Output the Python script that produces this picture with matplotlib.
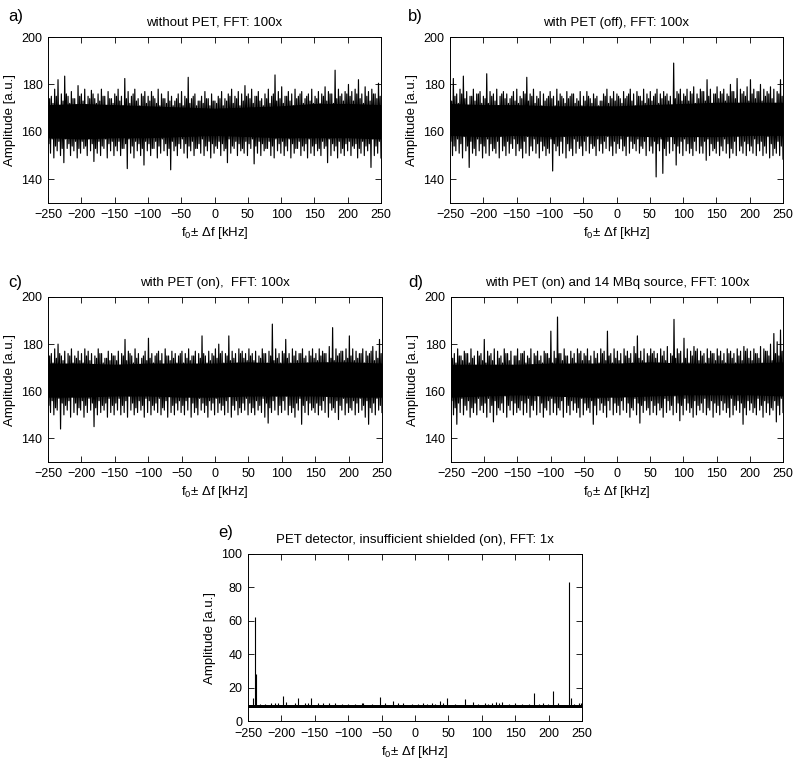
import numpy as np
import matplotlib
matplotlib.use("Agg")
import matplotlib.pyplot as plt

plt.rcParams['font.family'] = ['Liberation Sans', 'DejaVu Sans']
plt.rcParams['mathtext.fontset'] = 'custom'
plt.rcParams['mathtext.rm'] = 'Liberation Sans'
plt.rcParams['mathtext.it'] = 'Liberation Sans:italic'

titles = ["without PET, FFT: 100x", "with PET (off), FFT: 100x",
          "with PET (on),  FFT: 100x", "with PET (on) and 14 MBq source, FFT: 100x",
          "PET detector, insufficient shielded (on), FFT: 1x"]
panel_labels = ["a)", "b)", "c)", "d)", "e)"]
xticks = [-250, -200, -150, -100, -50, 0, 50, 100, 150, 200, 250]

# large upper / lower excursions (every 5 kHz), panels a-d
a_hi = [177,175,178,182,176,183.5,175,177,174,179.5,
        176,178,175,177.5,174,176,178,175,177,174,
        176,178,175,182.5,177,175,178,174,176,177,
        175,177,174,178,176,174,177,175,173,176,
        177,175,183,174,176,173,175,177,174,176,
        173,175,177,174,176,178,175,177,176,179.5,
        176,178,175,177,174,176,178,175,184,177,
        179,175,177,176,178,175,177,174,176,178,
        175,177,176,179,177,176,186,178,176,177,
        180,177,178,182,176,179,177,178,176,180.5]
a_lo = [151,149,152,150,147,153,150,152,149,151,
        153,150,152,147.5,151,150,153,149,152,150,
        152,150,153,144.5,151,149,152,150,146,152,
        150,153,149,151,152,150,144,152,150,153,
        151,149,152,150,153,151,150,152,149,151,
        153,150,152,147,151,153,150,152,151,150,
        153,146.5,151,150,152,153,150,149,152,151,
        150,152,149,151,153,150,152,149,151,150,
        152,150,153,147,150,152,149,151,150,152,
        150,153,149,151,150,152,145,150,151,149]
b_hi = [180,182.5,176,178,183.5,177,175,178,176,177,
        175,184.5,177,176,178,175,177,176,174,177,
        178,175,177,183,176,178,175,177,176,174,
        177,175,178,176,174,177,175,176,174,177,
        175,177,174,176,175,173,176,178,175,177,
        176,174,177,175,178,176,177,175,178,176,
        177,175,178,176,177,176,175,189,177,178,
        176,178,177,179,176,178,177,182,178,176,
        179,177,178,176,180,177,182.5,178,177,179,
        182,178,177,180,178,177,179,178,177,182]
b_lo = [150,152,151,149,152,145,151,150,152,149,
        151,150,152,151,149,152,150,151,153,150,
        152,149,151,150,152,151,149,152,150,151,
        143.5,152,150,151,149,152,150,151,153,150,
        152,151,153,150,152,151,153,152,150,151,
        153,152,150,151,153,152,151,153,150,152,
        151,141,152,142.5,150,151,152,146,151,150,
        152,151,150,152,151,151,148,150,152,151,
        150,152,151,149,151,150,152,151,150,152,
        151,150,152,150,151,149,150,151,150,148.5]
c_hi = [177,176,178,180,175,177,176,178,175,177,
        176,178,177,176,175,178,176,174,177,176,
        175,177,176,182,177,175,178,176,174,177,
        182.5,176,175,177,176,178,175,177,176,175,
        177,176,178,175,177,176,183.5,175,177,176,
        178,180,177,176,183.5,177,176,178,177,176,
        178,176,177,175,178,176,177,188.5,178,176,
        177,182,176,178,177,176,178,175,177,178,
        176,178,177,176,179,187,178,176,177,178,
        183.5,178,177,176,178,177,176,179,177,182]
c_lo = [151,150,152,144,150,152,149,151,150,152,
        149,151,152,145,150,151,152,149,151,150,
        152,150,151,149,152,150,151,152,149,151,
        150,152,151,150,152,149,151,150,152,151,
        150,152,149,151,150,152,151,149,152,150,
        151,152,150,151,149,152,150,151,152,150,
        151,150,152,151,149,146.5,151,152,150,151,
        152,150,151,149,152,146,151,150,152,151,
        150,152,151,149,152,151,148,152,150,151,
        152,150,151,152,149,146,151,150,152,151]
d_hi = [177,176,178,175,177,176,178,175,177,176,
        182,177,176,178,177,175,178,176,177,175,
        178,176,177,175,178,176,177,175,177,176,
        185.5,177,191.5,176,178,175,177,176,178,177,
        176,178,175,177,176,178,177,185.5,176,178,
        177,176,178,177,176,179,183.5,177,178,176,
        178,177,176,178,177,179,176,190.5,178,177,
        182.5,178,177,179,178,177,176,178,177,176,
        178,177,176,178,177,176,178,177,179,178,
        177,178,176,179,178,177,180,184.5,181,186]
d_lo = [150,146,151,150,152,149,151,150,152,151,
        149,151,147,150,152,151,149,152,150,151,
        152,150,151,149,152,150,151,149,152,150,
        151,150,152,149,151,150,152,151,149,150,
        152,151,146,150,152,151,149,152,150,151,
        150,152,151,149,152,150,146.5,151,152,150,
        151,150,152,149,151,152,150,151,147.5,150,
        152,151,149,150,152,151,150,152,149,151,
        150,152,151,149,150,152,151,146,150,152,
        151,150,152,149,151,150,152,147,150,151]

# smaller (shoulder) excursions in between, panels a-d
a_hi2 = [174,172,175,171,173,176,172,174,171,175,
         173,171,174,176,172,173,175,171,174,172,
         175,173,171,174,172,176,173,171,175,172,
         173,175,172,171,174,172,173,171,174,172,
         171,174,172,175,171,173,172,174,171,173,
         172,174,171,173,175,172,174,171,173,175,
         174,172,175,173,171,174,172,176,173,174,
         172,175,173,171,174,176,172,175,173,172,
         174,172,175,173,176,172,174,175,173,176,
         175,173,176,174,172,175,173,176,174,175]
a_lo2 = [155,157,154,156,153,157,155,154,156,153,
         156,154,157,155,153,156,154,157,155,156,
         154,156,153,155,157,154,156,155,153,156,
         155,153,156,154,157,155,153,156,154,155,
         157,155,154,156,153,155,157,154,156,155,
         154,156,155,153,157,154,156,155,153,156,
         155,157,154,156,155,153,156,154,157,155,
         156,154,157,155,153,156,154,155,157,154,
         155,153,156,154,157,155,154,156,153,155,
         156,154,155,153,156,154,155,157,154,156]
b_hi2 = [173,175,172,176,174,171,175,173,176,172,
         174,172,175,173,171,176,174,172,175,173,
         172,174,176,173,175,172,174,171,173,175,
         174,171,173,175,172,174,176,172,173,171,
         173,175,172,174,171,173,175,172,174,173,
         175,172,174,176,173,171,175,173,172,174,
         173,176,172,174,175,173,171,174,176,173,
         175,173,176,172,174,177,173,175,172,176,
         174,176,173,175,177,174,172,176,175,173,
         176,174,177,173,175,176,174,172,176,175]
b_lo2 = [156,154,157,155,158,154,156,153,157,155,
         154,157,155,153,156,158,154,156,155,157,
         155,153,156,158,154,157,155,156,154,153,
         157,155,154,156,158,155,153,157,156,154,
         156,158,155,154,157,155,156,158,154,156,
         155,157,154,158,156,155,157,154,156,158,
         154,156,155,157,153,156,158,155,154,156,
         157,155,153,156,158,154,156,157,155,153,
         156,154,157,155,153,156,158,154,156,155,
         154,157,155,156,154,158,155,153,156,154]
c_hi2 = [175,172,174,176,173,171,175,172,174,173,
         172,175,173,171,174,176,172,174,173,175,
         173,171,175,173,176,172,174,171,175,173,
         174,172,176,173,171,175,173,174,172,176,
         172,174,173,175,171,174,176,172,173,175,
         174,176,172,175,173,174,172,176,174,173,
         175,173,171,174,176,172,175,173,174,172,
         176,174,172,175,173,176,174,172,175,174,
         173,175,176,172,174,173,175,177,173,174,
         175,173,174,176,172,175,177,173,174,176]
c_lo2 = [154,156,153,157,155,154,156,158,155,153,
         156,154,157,155,153,156,154,155,157,154,
         155,157,154,156,158,155,153,156,154,157,
         156,154,155,157,153,156,158,154,155,156,
         154,156,158,155,153,157,155,154,156,155,
         157,155,154,156,158,154,156,153,155,157,
         155,153,156,154,157,155,153,156,158,154,
         156,158,154,153,155,157,154,156,155,153,
         155,154,156,158,155,153,156,154,157,155,
         153,156,155,157,154,156,153,155,157,154]
d_hi2 = [174,172,175,173,176,172,174,171,175,173,
         172,175,173,171,174,172,176,173,171,175,
         173,176,172,174,171,175,173,172,176,174,
         172,174,176,173,175,171,174,172,176,173,
         175,173,171,174,172,176,173,175,172,174,
         173,171,175,174,172,176,174,173,171,175,
         176,174,172,175,173,171,175,174,176,172,
         174,172,175,177,173,175,172,174,176,173,
         175,173,172,176,174,172,175,173,177,174,
         173,176,174,172,177,175,173,176,175,177]
d_lo2 = [156,153,155,157,154,156,153,155,157,154,
         155,157,154,156,153,155,158,154,156,155,
         153,156,155,157,154,156,158,155,153,156,
         157,155,153,156,158,154,156,155,153,157,
         155,153,156,154,157,155,154,156,158,155,
         154,156,158,155,153,157,155,154,156,153,
         156,154,155,153,157,156,154,158,155,154,
         157,155,153,156,154,155,157,153,156,155,
         154,156,155,153,157,154,156,155,153,156,
         155,153,157,154,156,155,153,156,154,157]

# dense core band (every 50 kHz)
a_core_lo = [157.5, 157, 157.5, 157.5, 158, 158.5, 158, 157.5, 157.5, 157.5, 157]
a_core_hi = [171.5, 172, 171.5, 171, 170.5, 170, 170.5, 171, 172, 172, 171.5]
b_core_lo = [158.5, 158, 158.5, 158, 158.5, 158.5, 158, 158, 158, 158.5, 158.5]
b_core_hi = [172, 171.5, 171.5, 171, 171, 171, 171.5, 172, 172.5, 172.5, 172.5]
c_core_lo = [157.5, 157.5, 158, 158, 157.5, 157.5, 158, 158, 158, 157.5, 157.5]
c_core_hi = [172, 172, 171.5, 172, 172, 172, 172.5, 172, 172.5, 172.5, 172]
d_core_lo = [157.5, 158, 158.5, 158, 157.5, 157.5, 158, 158.5, 158.5, 158.5, 158]
d_core_hi = [171.5, 171.5, 171.5, 172, 172, 172, 172.5, 172, 172, 172, 172.5]

# panel e: baseline band and spikes
e_base_lo = 7.8
e_base_hi = 9.3
e_spike_x = [-242.5,-239,-238,-232,-225,-215,-210,-205,-197,-193,-180,-175,-165,-160,-155,-145,
             -137,-128,-120,-110,-100,-90,-80,-78,-65,-53,-45,-33,-25,-18,-5,5,12,18,25,30,38,
             42,48,60,75,87,95,105,110,115,122,126,130,140,150,160,170,178,185,192,199,206,214,
             231,233,238,245,248]
e_spike_h = [13.5,62.5,28,10,10,10.5,11,11,15,11.5,10.5,13.5,11,10.5,13.5,10.5,
             11,10.5,11,10,10,10,11,10.5,10,14.5,10.5,12,10.5,11,10,10,10.5,10,10.5,10,12,
             11,13.5,10,13,11.5,10,10.5,10,10.5,11.5,10.5,11.5,10,10.5,10,10,16.5,10,10.5,10,18,10.5,
             83,13.5,10,10.5,10.5]

W, H = 800, 762
fig = plt.figure(figsize=(W / 100, H / 100), dpi=100)

def px_axes(l, t, r, b):
    return fig.add_axes([l / W, 1 - b / H, (r - l) / W, (b - t) / H])

def style(ax, ylim, yticks, xpad=4):
    ax.set_xlim(-250, 250)
    ax.set_ylim(*ylim)
    ax.set_xticks(xticks)
    ax.set_yticks(yticks)
    ax.tick_params(direction='in', top=True, right=True, length=4, width=0.6,
                   labelsize=9)
    ax.tick_params(axis='x', pad=xpad)
    ax.tick_params(axis='y', pad=4)
    for s in ax.spines.values():
        s.set_linewidth(0.7)
    ax.set_xlabel(r"f$_0$$\pm$ $\Delta$f [kHz]", fontsize=9.5, labelpad=3)
    ax.set_ylabel("Amplitude [a.u.]", fontsize=9.5, labelpad=4)

noise_panels = [
    (a_hi, a_lo, a_hi2, a_lo2, a_core_lo, a_core_hi, (48, 37, 381, 203)),
    (b_hi, b_lo, b_hi2, b_lo2, b_core_lo, b_core_hi, (450, 37, 783, 203)),
    (c_hi, c_lo, c_hi2, c_lo2, c_core_lo, c_core_hi, (48, 297, 382, 462)),
    (d_hi, d_lo, d_hi2, d_lo2, d_core_lo, d_core_hi, (451, 297, 783, 462)),
]

for k, (hi, lo, hi2, lo2, clo, chi, box) in enumerate(noise_panels):
    ax = px_axes(*box)
    n = min(len(hi), len(lo), len(hi2), len(lo2))
    xs = np.linspace(-250, 250, 4 * n)
    ys = np.empty(4 * n)
    ys[0::4] = hi[:n]
    ys[1::4] = lo2[:n]
    ys[2::4] = hi2[:n]
    ys[3::4] = lo[:n]
    xc = np.linspace(-250, 250, len(clo))
    ax.fill_between(xc, clo, chi, color='black', lw=0)
    ax.plot(xs, ys, color='black', lw=0.85)
    style(ax, (130, 200), [140, 160, 180, 200])
    ax.set_title(titles[k], fontsize=9.5, pad=8)
    lx = 8 if box[0] < 200 else 408
    ly = 17 if box[1] < 100 else 283
    fig.text(lx / W, 1 - ly / H, panel_labels[k], fontsize=12, va='center', ha='left')

ax = px_axes(248, 554, 582, 721)
ax.fill_between([-250, 250], [e_base_lo] * 2, [e_base_hi] * 2, color='black', lw=0)
ax.vlines(e_spike_x, (e_base_lo + e_base_hi) / 2, e_spike_h, color='black', lw=0.8)
style(ax, (0, 100), [0, 20, 40, 60, 80, 100], xpad=5)
ax.set_title(titles[4], fontsize=9.5, pad=8)
fig.text(218 / W, 1 - 533 / H, panel_labels[4], fontsize=12, va='center', ha='left')

fig.savefig("out.png", dpi=100)
